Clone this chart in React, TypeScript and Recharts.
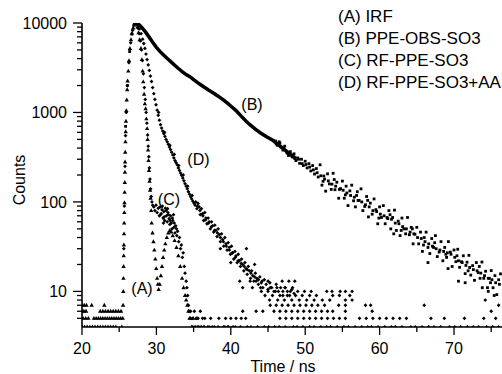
import { ComposedChart, Scatter, Line, XAxis, YAxis, Legend, ReferenceDot } from "recharts";

const FONT = '"Liberation Sans", Arial, Helvetica, sans-serif';
const W = 502;
const H = 374;
const MARGIN = { top: 23, right: 0, bottom: 0, left: 0 };
const Y_AXIS_W = 82;
const X_AXIS_H = 47;
const AXIS_X = MARGIN.left + Y_AXIS_W;
const AXIS_Y = H - MARGIN.bottom - X_AXIS_H;

type Pt = [number, number];

// ---- data (time in ns, counts) ----
const irfBase: Pt[] = [
  [20.0, 7], [20.3, 7], [20.6, 7], [21.3, 7], [23.0, 7],
  [20.0, 6], [20.25, 6], [20.55, 6], [22.45, 6], [22.8, 6], [23.15, 6], [23.5, 6], [23.85, 6], [24.2, 6], [24.55, 6], [24.9, 6], [25.25, 6],
  [20.15, 5], [20.5, 5], [20.85, 5], [21.6, 5], [21.9, 5], [22.2, 5], [22.5, 5], [22.8, 5], [23.1, 5], [23.4, 5], [23.7, 5], [24.0, 5], [24.3, 5], [24.6, 5], [24.9, 5], [25.2, 5],
  [20.0, 4], [20.35, 4], [20.7, 4], [21.05, 4], [21.4, 4], [21.75, 4], [22.1, 4], [22.45, 4], [22.8, 4], [23.15, 4], [23.5, 4], [23.85, 4], [24.2, 4], [24.55, 4], [25.35, 4],
];

const irfPulse: Pt[] = [
  [25.48, 5], [25.52, 7], [25.55, 10], [25.57, 14], [25.59, 19], [25.61, 25], [25.63, 33], [25.65, 44], [25.67, 58], [25.69, 76],
  [25.71, 98], [25.73, 128], [25.75, 165], [25.77, 215], [25.79, 280], [25.81, 360], [25.84, 470], [25.87, 610], [25.91, 800],
  [25.96, 1050], [26.01, 1380], [26.07, 1800], [26.13, 2250], [26.22, 2900], [26.32, 3800], [26.44, 5200], [26.58, 6500],
  [26.72, 7700], [26.88, 8800], [27.0, 9500], [27.12, 10000],
  [27.3, 9900], [27.45, 9000], [27.6, 7800], [27.75, 6500], [27.92, 5200], [28.05, 3900], [28.15, 2900], [28.23, 2200],
  [28.35, 1600], [28.45, 1250], [28.55, 1100], [28.65, 850], [28.75, 660], [28.82, 500], [28.88, 380], [28.94, 290],
  [29.0, 225], [29.08, 170], [29.15, 135], [29.22, 110], [29.3, 80], [29.36, 58], [29.48, 45], [29.6, 36], [29.72, 29],
  [29.85, 23], [29.98, 18], [30.1, 14], [30.2, 12], [30.3, 10.5],
  [30.45, 12], [30.6, 15], [30.75, 19], [30.9, 24], [31.05, 29], [31.2, 34], [31.4, 40], [31.6, 45], [31.8, 48], [32.0, 46],
  [32.2, 42], [32.45, 37], [32.7, 31], [32.95, 25], [33.2, 19], [33.45, 14], [33.65, 11], [33.85, 9], [34.0, 8], [34.15, 7],
  [34.3, 6], [34.45, 5], [34.6, 5], [34.75, 4], [34.95, 5], [35.2, 4], [35.45, 5], [35.7, 4], [36.0, 4], [36.4, 4],
];

const bRise: Pt[] = [
  [25.86, 700], [26.1, 2000], [26.4, 4800], [26.7, 7500], [27.0, 9500],
];

const bBody: Pt[] = [
  [27.3, 10000], [27.6, 9700], [28.0, 9000], [28.5, 8000], [29.0, 7000], [29.5, 6100], [30.0, 5350], [30.5, 4780],
  [31.0, 4350], [31.5, 3980], [32.0, 3650], [32.5, 3350], [33.0, 3080], [33.5, 2850], [34.0, 2650], [34.5, 2510],
  [35.0, 2330], [35.5, 2170], [36.0, 2030], [36.5, 1900], [37.0, 1780], [37.6, 1660], [38.3, 1520], [39.0, 1380],
  [39.5, 1280], [40.0, 1180], [40.7, 1050], [41.4, 910], [42.0, 810], [42.6, 725], [43.3, 650], [44.0, 590],
  [44.8, 535], [45.7, 485], [46.5, 430], [47.3, 380], [48.1, 335], [48.8, 305],
];

const bTail: Pt[] = [
  [46.0, 480], [46.25, 430], [46.5, 470], [46.75, 410], [47.0, 380], [47.25, 420], [47.5, 360], [47.75, 330],
  [48.0, 365], [48.25, 318], [48.5, 345], [48.75, 290], [49.0, 310], [49.25, 270], [49.5, 300], [49.75, 255],
  [50.0, 285], [50.25, 240], [50.5, 268], [50.75, 222], [51.0, 255], [51.25, 205], [51.5, 236], [51.75, 190],
  [52.0, 260], [52.25, 154], [52.5, 195], [52.75, 132], [53.0, 206], [53.25, 159], [53.5, 138], [53.75, 209],
  [54.0, 137], [54.25, 166], [54.5, 110], [54.75, 141], [55.0, 171], [55.25, 110], [55.5, 150], [55.75, 91],
  [56.0, 133], [56.25, 154], [56.5, 103], [56.75, 88], [57.0, 130], [57.25, 104], [57.5, 140], [57.75, 80],
  [58.0, 89], [58.25, 115], [58.5, 68], [58.75, 97], [59.0, 73], [59.25, 108], [59.5, 82], [59.75, 57],
  [60.0, 88], [60.25, 67], [60.5, 91], [60.75, 57], [61.0, 67], [61.25, 80], [61.5, 50], [61.75, 67],
  [62.0, 81], [62.25, 48], [62.5, 61], [62.75, 42], [63.0, 66], [63.25, 50], [63.5, 44], [63.75, 67],
  [64.0, 43], [64.25, 52], [64.5, 34], [64.75, 43.5], [65.0, 52], [65.25, 34], [65.5, 46], [65.75, 28],
  [66.0, 40], [66.25, 46], [66.5, 31], [66.75, 26.5], [67.0, 39], [67.25, 31], [67.5, 42], [67.75, 24.5],
  [68.0, 27.5], [68.25, 36], [68.5, 22], [68.75, 31], [69.0, 24], [69.25, 36], [69.5, 27.5], [69.75, 19],
  [70.0, 29], [70.25, 21.5], [70.5, 29.6], [70.75, 18.6], [71.0, 21.5], [71.25, 25], [71.5, 15.8], [71.75, 21.2],
  [72.0, 25.3], [72.25, 15.2], [72.5, 19.4], [72.75, 13.3], [73.0, 21], [73.25, 16.2], [73.5, 14], [73.75, 21.3],
  [74.0, 14], [74.25, 16.8], [74.5, 11], [74.75, 14], [75.0, 17.1], [75.25, 11], [75.5, 15], [75.75, 9.2],
  [76.0, 13.5], [76.25, 15.7],
];

const bTailMid: Pt[] = [
  [46.1, 445], [46.6, 455], [47.1, 400], [47.6, 350], [48.1, 335], [48.6, 305], [49.1, 300], [49.6, 268],
  [50.1, 262], [50.6, 245], [51.1, 228], [51.6, 212], [52.1, 196], [52.6, 180], [53.1, 172], [53.6, 158],
  [54.1, 150], [54.6, 138], [55.1, 135], [55.6, 126], [56.1, 118], [56.6, 113], [57.1, 104], [57.6, 100],
  [58.1, 93], [58.6, 88], [59.1, 80], [59.6, 78], [60.1, 73], [60.6, 70], [61.1, 65], [61.6, 64], [62.1, 58],
  [62.6, 57], [63.1, 53], [63.6, 50], [64.1, 46], [64.6, 44], [65.1, 40], [65.6, 39], [66.1, 36], [66.6, 34],
  [67.1, 32], [67.6, 30], [68.1, 29], [68.6, 28], [69.1, 27], [69.6, 26], [70.1, 24], [70.6, 22], [71.1, 21],
  [71.6, 19.5], [72.1, 18.5], [72.6, 17.5], [73.1, 17], [73.6, 16], [74.1, 15], [74.6, 14], [75.1, 13.5],
  [75.6, 12.5], [76.1, 12],
  [52.4, 170], [53.9, 178], [55.4, 120], [56.9, 118], [58.4, 104], [59.9, 66], [61.4, 72], [62.9, 48],
  [64.4, 50], [65.9, 33], [67.4, 35], [68.9, 26], [70.4, 25], [71.9, 17], [73.4, 19], [74.9, 12.5],
  [61.9, 44], [66.5, 21], [69.2, 18], [70.6, 13], [71.5, 12.5], [73.8, 11], [74.6, 10], [75.4, 9],
];

const cPulse: Pt[] = [
  [25.62, 30], [25.7, 90], [25.78, 250], [25.85, 550], [25.95, 1000], [26.1, 2000], [26.3, 3600], [26.55, 6000], [26.8, 8300], [27.05, 9700],
  [27.25, 10000], [27.4, 9600], [27.55, 8700], [27.7, 7600], [27.85, 6300], [28.0, 5000], [28.12, 3800], [28.25, 2700],
  [28.38, 1900], [28.5, 1400], [28.62, 1000], [28.72, 760], [28.82, 560], [28.9, 420], [28.98, 320], [29.06, 240],
  [29.14, 180], [29.22, 140], [29.3, 115], [29.4, 100], [29.5, 92],
  [29.65, 88], [29.8, 80], [29.95, 92], [30.1, 76], [30.25, 85], [30.4, 70], [30.5, 88], [30.65, 74], [30.75, 82],
  [30.9, 66], [31.0, 78], [31.1, 62], [31.2, 85], [31.35, 70], [31.45, 60], [31.55, 76], [31.7, 65], [31.8, 56],
  [31.9, 70], [32.0, 58], [32.1, 50], [32.2, 62], [32.35, 52], [32.5, 45], [32.6, 54], [32.75, 42], [32.85, 47],
  [33.0, 36], [33.1, 40], [33.25, 30], [33.35, 33], [33.5, 24], [33.6, 27], [33.75, 19], [33.85, 16], [34.0, 13],
  [34.1, 11], [34.2, 9], [34.3, 7], [34.4, 6],
  [30.55, 72], [30.8, 90], [31.05, 68], [31.3, 80], [31.6, 72], [31.85, 62], [32.15, 66], [32.4, 58], [32.7, 50],
  [30.95, 58], [31.5, 84], [32.3, 72],
  [34.6, 6], [34.85, 5], [35.1, 6], [35.35, 5], [35.6, 5], [35.9, 6], [36.2, 5], [36.5, 5], [36.9, 4], [37.3, 5],
  [37.8, 4], [38.4, 5], [39.0, 4], [39.6, 4], [40.3, 4],
];

const dDecay: Pt[] = [
  [27.35, 10000], [27.55, 9500], [27.75, 8600], [27.95, 7600], [28.15, 6600], [28.3, 5900], [28.46, 5200], [28.6, 4500],
  [28.75, 3900], [28.9, 3400], [29.05, 2950], [29.2, 2550], [29.35, 2220], [29.5, 1900], [29.65, 1620], [29.8, 1400],
  [29.95, 1220], [30.1, 1060], [30.25, 930], [30.4, 820], [30.55, 730], [30.7, 670], [30.85, 620], [31.0, 580],
  [31.15, 540], [31.3, 500], [31.45, 470], [31.6, 440], [31.75, 410], [31.9, 385], [32.05, 360], [32.2, 335],
  [32.35, 310], [32.5, 290], [32.65, 275], [32.8, 260], [32.95, 240], [33.1, 225], [33.25, 210], [33.4, 198],
  [33.55, 185], [33.7, 172], [33.85, 160], [34.0, 150], [34.15, 140], [34.3, 130], [34.45, 122], [34.6, 114],
  [34.75, 108], [34.9, 102], [35.05, 97], [35.2, 92],
  [30.3, 1000], [31.1, 600], [31.8, 430], [32.4, 340], [33.0, 255], [33.6, 200], [34.2, 150], [34.8, 118],
];

const dBand: Pt[] = [
  [35.3, 100], [35.45, 84], [35.6, 96], [35.75, 88], [35.9, 72], [36.05, 84], [36.2, 74], [36.35, 62], [36.5, 76],
  [36.65, 66], [36.8, 57], [36.95, 66], [37.1, 60], [37.25, 50], [37.4, 60], [37.55, 54], [37.7, 46], [37.85, 55],
  [38.0, 48], [38.15, 41], [38.3, 50], [38.45, 43], [38.6, 36], [38.75, 44], [38.9, 38], [39.05, 32], [39.2, 40],
  [39.35, 34], [39.5, 29], [39.65, 35], [39.8, 31], [39.95, 26], [40.1, 32], [40.25, 27], [40.4, 23], [40.55, 28],
  [40.7, 25], [40.85, 21], [41.0, 26], [41.15, 22], [41.3, 19], [41.45, 23], [41.6, 20], [41.75, 17], [41.9, 21],
  [42.05, 18], [42.2, 15.5], [42.35, 19], [42.5, 17], [42.65, 14], [42.8, 17], [42.95, 15], [43.1, 13], [43.3, 16],
  [43.5, 14], [43.7, 12], [43.9, 14.5], [44.1, 12.5], [44.3, 11], [44.5, 13.5], [44.75, 12], [45.0, 10.5], [45.25, 12.5],
  [45.5, 11], [45.8, 10], [46.1, 12], [46.4, 10], [46.7, 11], [47.0, 9], [47.3, 11], [47.6, 10], [47.9, 9], [48.2, 10.5], [48.5, 9.5],
  [35.5, 90], [35.85, 80], [36.25, 70], [36.6, 63], [37.0, 58], [37.4, 53], [37.8, 48], [38.2, 45], [38.6, 40], [39.0, 36],
  [39.4, 32], [39.8, 29], [40.2, 27], [40.6, 24], [41.0, 22], [41.4, 20.5], [41.8, 19], [42.2, 17.5], [42.7, 16], [43.2, 14.5], [43.7, 13.5],
  [38.6, 30], [40.0, 21], [42.1, 30], [43.2, 20],
];

const dFloor: Pt[] = [
  [41.2, 13], [42.6, 13], [43.4, 13], [44.2, 13], [45.0, 13], [46.9, 13], [47.8, 13], [48.6, 13],
  [41.6, 11], [42.9, 11], [44.0, 11], [45.3, 11], [46.2, 11], [47.3, 11], [48.3, 11],
  [44.1, 10], [45.0, 10], [46.0, 10], [47.0, 10], [48.0, 10], [49.0, 10], [49.9, 10], [50.8, 10], [52.9, 10], [53.6, 10], [54.7, 10], [55.4, 10], [56.3, 10],
  [44.6, 9], [45.6, 9], [46.6, 9], [47.6, 9], [48.7, 9], [49.6, 9], [50.6, 9], [51.5, 9], [53.7, 9], [54.6, 9], [56.0, 9],
  [45.2, 8], [46.3, 8], [47.2, 8], [48.2, 8], [49.2, 8], [50.2, 8], [51.2, 8], [52.3, 8], [53.3, 8], [55.4, 8], [56.3, 8], [74.2, 8],
  [45.3, 7], [46.1, 7], [46.9, 7], [47.7, 7], [48.5, 7], [49.3, 7], [50.1, 7], [50.9, 7], [51.7, 7], [52.6, 7], [54.5, 7], [55.4, 7], [58.1, 7], [58.8, 7], [66.0, 7], [76.0, 7],
  [41.6, 6], [43.4, 6], [44.3, 6], [45.8, 6], [46.6, 6], [47.4, 6], [48.2, 6], [49.0, 6], [49.8, 6], [50.6, 6], [51.4, 6], [52.2, 6], [53.0, 6], [53.7, 6], [55.4, 6], [59.0, 6], [75.0, 6],
  [39.3, 5], [40.0, 5], [40.7, 5], [41.4, 5], [42.0, 5], [46.6, 5], [47.4, 5], [48.2, 5], [49.0, 5], [49.8, 5], [50.6, 5], [51.4, 5],
  [52.2, 5], [53.0, 5], [53.8, 5], [54.6, 5], [55.4, 5], [57.3, 5], [58.2, 5], [59.1, 5], [60.0, 5], [60.9, 5], [61.8, 5], [62.7, 5],
  [63.6, 5], [66.9, 5], [68.7, 5], [71.4, 5], [74.0, 5], [75.6, 5],
  [34.9, 4], [35.5, 4], [36.4, 4], [37.1, 4], [37.5, 4], [38.3, 4], [39.2, 4], [39.7, 4], [40.6, 4], [41.3, 4], [42.2, 4],
  [42.7, 4], [43.6, 4], [44.5, 4], [45.1, 4], [45.9, 4], [46.5, 4], [47.3, 4], [48.4, 4], [48.9, 4], [49.7, 4], [50.6, 4],
  [51.2, 4], [52.1, 4], [52.9, 4], [53.4, 4], [54.3, 4], [55.2, 4], [55.8, 4], [56.7, 4], [57.6, 4], [58.4, 4], [58.9, 4],
  [59.8, 4], [60.7, 4], [61.6, 4], [62.1, 4], [63.0, 4], [64.2, 4], [64.8, 4], [65.7, 4], [66.6, 4], [67.3, 4], [68.2, 4],
  [69.4, 4], [70.1, 4], [70.9, 4], [71.8, 4], [72.6, 4], [73.3, 4], [74.4, 4], [75.2, 4], [76.0, 4],
];

const legendLabels = ["(A) IRF", "(B) PPE-OBS-SO3", "(C) RF-PPE-SO3", "(D) RF-PPE-SO3+AA"];
const curveTags: { tag: string; t: number; c: number }[] = [
  { tag: "(A)", t: 28.06, c: 10.9 },
  { tag: "(B)", t: 42.85, c: 1245 },
  { tag: "(C)", t: 31.69, c: 108 },
  { tag: "(D)", t: 35.65, c: 300 },
];

const xTicks = [20, 25, 30, 35, 40, 45, 50, 55, 60, 65, 70, 75];
const xLabelled = [20, 30, 40, 50, 60, 70];
const yTicks = [
  5, 6, 7, 8, 9, 10, 20, 30, 40, 50, 60, 70, 80, 90, 100, 200, 300, 400, 500, 600, 700, 800, 900,
  1000, 2000, 3000, 4000, 5000, 6000, 7000, 8000, 9000, 10000,
];
const yLabelled = [10, 100, 1000, 10000];

const rows = (pts: Pt[]) => pts.map(([t, c]) => ({ t, c }));
const irfData = rows([...irfBase, ...irfPulse]);
const bLineData = rows(bBody);
const bPointData = rows([...bRise, ...bTail, ...bTailMid]);
const cData = rows(cPulse);
const dData = rows([...dDecay, ...dBand, ...dFloor]);

const Triangle = (p: any) => (
  <path d={`M${p.cx},${p.cy - 2.4}L${p.cx + 2.2},${p.cy + 1.5}L${p.cx - 2.2},${p.cy + 1.5}Z`} fill="#000" />
);
const Square = (p: any) => <rect x={p.cx - 1.4} y={p.cy - 1.4} width={2.8} height={2.8} fill="#000" />;
const Diamond = (p: any) => (
  <path d={`M${p.cx},${p.cy - 1.9}L${p.cx + 1.9},${p.cy}L${p.cx},${p.cy + 1.9}L${p.cx - 1.9},${p.cy}Z`} fill="#000" />
);

const XTick = (props: any) => {
  const { x, payload } = props;
  const major = xLabelled.includes(payload.value);
  return (
    <g>
      <line x1={x} x2={x} y1={AXIS_Y} y2={AXIS_Y + (major ? 8 : 5)} stroke="#000" strokeWidth={1.3} />
      {major && (
        <text x={x} y={AXIS_Y + 21} dy="0.35em" textAnchor="middle" fontSize={16} fontFamily={FONT} fill="#000">
          {payload.value}
        </text>
      )}
    </g>
  );
};

const YTick = (props: any) => {
  const { y, payload } = props;
  const major = yLabelled.includes(payload.value);
  return (
    <g>
      <line x1={AXIS_X - (major ? 9 : 5)} x2={AXIS_X} y1={y} y2={y} stroke="#000" strokeWidth={1.3} />
      {major && (
        <text x={AXIS_X - 15} y={y} dy="0.35em" textAnchor="end" fontSize={16} fontFamily={FONT} fill="#000">
          {payload.value}
        </text>
      )}
    </g>
  );
};

const XTitle = ({ viewBox }: any) => (
  <text x={viewBox.x + viewBox.width / 2 - 9} y={viewBox.y + 39} dy="0.35em" textAnchor="middle" fontSize={16} fontFamily={FONT} fill="#000">
    Time / ns
  </text>
);

const YTitle = ({ viewBox }: any) => {
  const cx = viewBox.x + 19;
  const cy = viewBox.y + viewBox.height / 2 + 5;
  return (
    <text x={cx} y={cy} dy="0.35em" transform={`rotate(-90 ${cx} ${cy})`} textAnchor="middle" fontSize={16} fontFamily={FONT} fill="#000">
      Counts
    </text>
  );
};

const LegendBox = () => (
  <div style={{ font: `17px ${FONT}`, lineHeight: "22px", color: "#000", whiteSpace: "nowrap" }}>
    {legendLabels.map((l) => (
      <div key={l}>{l}</div>
    ))}
  </div>
);

export default function App() {
  return (
    <div style={{ position: "absolute", left: 0, top: 0, width: W, height: H, background: "#fff" }}>
      <ComposedChart width={W} height={H} margin={MARGIN}>
        <XAxis
          type="number"
          dataKey="t"
          domain={[20, 76.45]}
          allowDataOverflow
          ticks={xTicks}
          interval={0}
          height={X_AXIS_H}
          tickLine={false}
          tick={<XTick />}
          axisLine={{ stroke: "#000", strokeWidth: 1.6 }}
          label={{ content: <XTitle /> }}
        />
        <YAxis
          type="number"
          dataKey="c"
          scale="log"
          domain={[4, 10000]}
          allowDataOverflow
          ticks={yTicks}
          interval={0}
          width={Y_AXIS_W}
          tickLine={false}
          tick={<YTick />}
          axisLine={{ stroke: "#000", strokeWidth: 1.6 }}
          label={{ content: <YTitle /> }}
        />
        <Legend
          layout="horizontal"
          verticalAlign="middle"
          align="center"
          wrapperStyle={{ top: 6, left: 338, width: 170 }}
          content={<LegendBox />}
        />
        <Scatter name="D" data={dData} shape={Diamond} isAnimationActive={false} />
        <Scatter name="C" data={cData} shape={Diamond} isAnimationActive={false} />
        <Line data={bLineData} dataKey="c" type="linear" stroke="#000" strokeWidth={3.5} dot={false} activeDot={false} isAnimationActive={false} />
        <Scatter name="B" data={bPointData} shape={Square} isAnimationActive={false} />
        <Scatter name="A" data={irfData} shape={Triangle} isAnimationActive={false} />
        {curveTags.map((d) => (
          <ReferenceDot
            key={d.tag}
            x={d.t}
            y={d.c}
            r={1}
            fill="none"
            stroke="none"
            label={{ value: d.tag, position: "center", fontSize: 16, fontFamily: FONT, fill: "#000" }}
          />
        ))}
      </ComposedChart>
    </div>
  );
}
